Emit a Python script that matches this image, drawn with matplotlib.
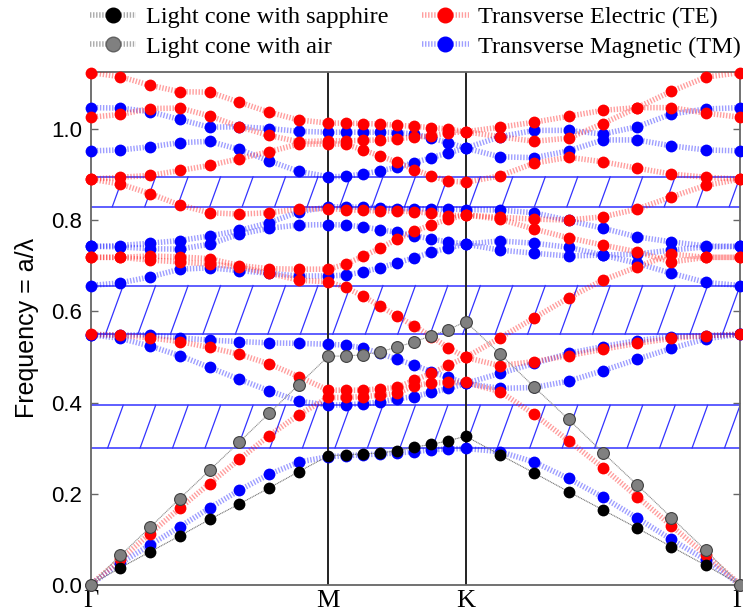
import numpy as np
import matplotlib.pyplot as plt
from matplotlib.lines import Line2D

# k-path Gamma -> M -> K -> Gamma (hexagonal lattice), 8 steps per segment
seg_len = [1 / np.sqrt(3), 1 / 3, 2 / 3]
n_step = 8
k_labels = ["Γ", "M", "K", "Γ"]

# bands, 25 k-points each (Γ..M, M..K, K..Γ)
te_bands = [
    [0.000, 0.055, 0.112, 0.168, 0.222, 0.275, 0.327, 0.373, 0.411,
     0.411, 0.413, 0.416, 0.420, 0.437, 0.443, 0.444, 0.444,
     0.424, 0.374, 0.316, 0.257, 0.193, 0.129, 0.065, 0.000],
    [0.550, 0.548, 0.542, 0.534, 0.521, 0.506, 0.485, 0.457, 0.427,
     0.427, 0.427, 0.430, 0.433, 0.449, 0.464, 0.482, 0.499,
     0.481, 0.490, 0.503, 0.517, 0.530, 0.541, 0.547, 0.550],
    [0.719, 0.719, 0.713, 0.709, 0.704, 0.698, 0.684, 0.669, 0.665,
     0.653, 0.634, 0.612, 0.590, 0.568, 0.545, 0.520, 0.499,
     0.542, 0.586, 0.630, 0.669, 0.698, 0.726, 0.719, 0.719],
    [0.719, 0.719, 0.722, 0.720, 0.716, 0.701, 0.694, 0.693, 0.693,
     0.704, 0.721, 0.739, 0.759, 0.776, 0.791, 0.803, 0.812,
     0.803, 0.781, 0.762, 0.746, 0.731, 0.709, 0.719, 0.719],
    [0.891, 0.880, 0.859, 0.834, 0.817, 0.814, 0.817, 0.825, 0.826,
     0.824, 0.822, 0.821, 0.821, 0.819, 0.816, 0.810, 0.812,
     0.807, 0.803, 0.801, 0.808, 0.825, 0.852, 0.877, 0.891],
    [0.891, 0.895, 0.899, 0.910, 0.921, 0.936, 0.951, 0.968, 0.968,
     0.968, 0.955, 0.942, 0.928, 0.912, 0.898, 0.887, 0.884,
     0.898, 0.926, 0.939, 0.929, 0.915, 0.902, 0.895, 0.891],
    [1.027, 1.033, 1.046, 1.047, 1.030, 1.006, 0.987, 0.973, 0.975,
     0.975, 0.976, 0.977, 0.980, 0.983, 0.986, 0.993, 0.995,
     0.984, 0.974, 0.981, 1.013, 1.048, 1.084, 1.115, 1.125],
    [1.125, 1.116, 1.097, 1.083, 1.082, 1.060, 1.038, 1.021, 1.014,
     1.014, 1.013, 1.012, 1.009, 1.007, 1.004, 1.001, 0.995,
     1.005, 1.016, 1.029, 1.042, 1.048, 1.048, 1.036, 1.027],
]
tm_bands = [
    [0.000, 0.047, 0.087, 0.127, 0.168, 0.207, 0.242, 0.269, 0.281,
     0.283, 0.285, 0.287, 0.289, 0.292, 0.296, 0.298, 0.299,
     0.292, 0.269, 0.233, 0.192, 0.146, 0.099, 0.054, 0.000],
    [0.549, 0.541, 0.524, 0.503, 0.477, 0.451, 0.426, 0.403, 0.394,
     0.395, 0.397, 0.401, 0.408, 0.413, 0.422, 0.431, 0.442,
     0.431, 0.433, 0.447, 0.470, 0.495, 0.519, 0.540, 0.550],
    [0.549, 0.548, 0.549, 0.542, 0.537, 0.534, 0.531, 0.530, 0.528,
     0.526, 0.520, 0.508, 0.495, 0.482, 0.468, 0.455, 0.442,
     0.464, 0.486, 0.508, 0.523, 0.536, 0.545, 0.547, 0.550],
    [0.657, 0.663, 0.676, 0.693, 0.696, 0.690, 0.684, 0.678, 0.678,
     0.680, 0.687, 0.696, 0.707, 0.718, 0.730, 0.740, 0.748,
     0.755, 0.750, 0.741, 0.724, 0.706, 0.684, 0.664, 0.657],
    [0.743, 0.742, 0.738, 0.737, 0.748, 0.770, 0.783, 0.790, 0.791,
     0.790, 0.786, 0.780, 0.774, 0.767, 0.759, 0.753, 0.748,
     0.735, 0.728, 0.722, 0.724, 0.726, 0.735, 0.742, 0.743],
    [0.743, 0.745, 0.750, 0.756, 0.766, 0.778, 0.795, 0.819, 0.830,
     0.830, 0.829, 0.828, 0.826, 0.826, 0.825, 0.825, 0.824,
     0.823, 0.817, 0.800, 0.783, 0.764, 0.753, 0.744, 0.743],
    [0.953, 0.955, 0.962, 0.971, 0.974, 0.956, 0.931, 0.908, 0.896,
     0.897, 0.902, 0.909, 0.917, 0.927, 0.938, 0.949, 0.959,
     0.940, 0.938, 0.953, 0.977, 0.977, 0.964, 0.955, 0.953],
    [1.048, 1.047, 1.039, 1.022, 1.005, 1.006, 1.002, 0.996, 0.994,
     0.994, 0.994, 0.994, 0.993, 0.990, 0.981, 0.971, 0.959,
     0.984, 0.998, 0.998, 0.990, 1.006, 1.034, 1.045, 1.048],
]
sapphire_cone = [0.000, 0.037, 0.072, 0.107, 0.143, 0.177, 0.212, 0.248, 0.283,
                 0.285, 0.287, 0.289, 0.294, 0.302, 0.308, 0.316, 0.326,
                 0.285, 0.245, 0.204, 0.164, 0.124, 0.083, 0.042, 0.000]
air_cone = [0.000, 0.064, 0.126, 0.189, 0.251, 0.313, 0.376, 0.439, 0.502,
            0.502, 0.505, 0.511, 0.522, 0.533, 0.547, 0.560, 0.578,
            0.507, 0.434, 0.363, 0.290, 0.219, 0.147, 0.075, 0.000]
# photonic band gaps (hatched)
gaps = [(0.300, 0.394), (0.550, 0.657), (0.830, 0.896)]

ymax = 1.1257

# k-point positions along the path
nodes = np.concatenate([[0], np.cumsum(seg_len)])
kx = np.concatenate([np.linspace(nodes[0], nodes[1], n_step + 1)] +
                    [np.linspace(nodes[i], nodes[i + 1], n_step + 1)[1:] for i in (1, 2)])
L = nodes[-1]

W, H = 7.43, 6.12
fig = plt.figure(figsize=(W, H), dpi=100)
pos = [0.1221, 0.0449, 0.874, 0.837]
ax = fig.add_axes(pos)

ms = 8.5
dots = (0, (0.25, 0.3))
band_line = dict(lw=4, ls=dots, alpha=0.38)
for b in tm_bands:
    ax.plot(kx, b, color="#0000ff", zorder=3, **band_line)
    ax.plot(kx, b, "o", color="#0000ff", ms=ms, mew=0, zorder=4, clip_on=False)
for b in te_bands:
    ax.plot(kx, b, color="#ff0000", zorder=3, **band_line)
    ax.plot(kx, b, "o", color="#ff0000", ms=ms, mew=0, zorder=4, clip_on=False)

ax.plot(kx, sapphire_cone, color="0.45", lw=0.8, ls=(0, (1, 0.6)), zorder=5)
ax.plot(kx, sapphire_cone, "o", color="k", ms=ms, mew=0, zorder=6, clip_on=False)
ax.plot(kx, air_cone, color="0.55", lw=0.8, ls=(0, (1, 0.6)), zorder=5)
ax.plot(kx, air_cone, "o", mfc="#808080", mec="#404040", ms=ms, mew=0.8, zorder=6,
        clip_on=False)

# band gaps: edges plus steep hatch lines
ax_w = pos[2] * W * 100
ax_h = pos[3] * H * 100
for lo, hi in gaps:
    ax.axhline(lo, color="#3333ff", lw=1.1, zorder=2)
    ax.axhline(hi, color="#3333ff", lw=1.1, zorder=2)
    dx = (hi - lo) * ax_h / ymax / np.tan(np.radians(70)) * L / ax_w
    for xt in np.linspace(0, L, 21):
        ax.plot([xt - dx, xt], [lo, hi], color="#3333ff", lw=0.9, zorder=2)

for xv in nodes[1:-1]:
    ax.axvline(xv, color="#222222", lw=1.4, zorder=2.5)

ax.set_xlim(0, L)
ax.set_ylim(0, ymax)
ax.set_xticks(nodes)
ax.set_xticklabels(k_labels, family="Liberation Serif", fontsize=19)
ax.tick_params(axis="x", length=0, pad=4)
ax.set_yticks(np.arange(0, 1.01, 0.2))
ax.set_yticklabels([f"{v:.1f}" for v in np.arange(0, 1.01, 0.2)],
                   family="Liberation Sans", fontsize=16)
ax.tick_params(axis="y", direction="in", length=5, width=1, color="#666666",
               right=True, pad=6)
for s in ax.spines.values():
    s.set_color("#666666")
    s.set_linewidth(1.3)
ax.set_ylabel("Frequency = a/λ", family="Liberation Sans", fontsize=18, labelpad=9)


def legend_handle(line_color, line_alpha, face, edge):
    line = Line2D([], [], color=line_color, lw=4, ls=dots, alpha=line_alpha)
    dot = Line2D([], [], ls="none", marker="o", mfc=face, mec=edge, ms=10.5)
    return (line, dot)


handles = [
    legend_handle("0.45", 0.6, "k", "k"),
    legend_handle("0.45", 0.6, "#808080", "#606060"),
    legend_handle("#ff0000", 0.38, "#ff0000", "#ff0000"),
    legend_handle("#0000ff", 0.38, "#0000ff", "#0000ff"),
]
labels = ["Light cone with sapphire", "Light cone with air",
          "Transverse Electric (TE)", "Transverse Magnetic (TM)"]
fig.legend(handles, labels, ncol=2, loc="upper left", bbox_to_anchor=(0.121, 0.990),
           frameon=False, prop={"family": "Liberation Serif", "size": 17.5},
           handlelength=1.9, handletextpad=0.4, columnspacing=1.4,
           labelspacing=0.32, borderpad=0, borderaxespad=0)

fig.savefig("out.png", dpi=100)
